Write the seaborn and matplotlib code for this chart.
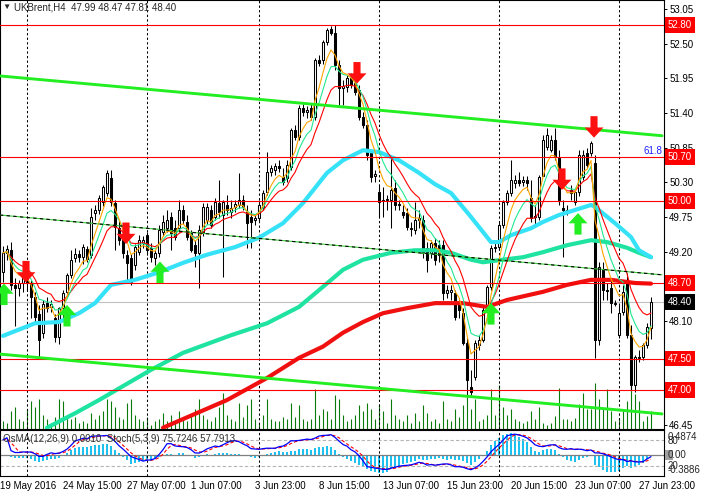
import numpy as np
import pandas as pd
import matplotlib
matplotlib.use("Agg")
import matplotlib.pyplot as plt
import seaborn as sns

# ---- candles (UKBrent H4) ----
opens = [48.87, 49.18, 49.22, 48.67, 48.62, 48.70, 48.78, 48.70, 48.48, 48.21,
         47.91, 48.38, 48.32, 48.14, 47.84, 48.30, 48.56, 48.83, 49.10, 49.16,
         49.11, 49.24, 49.15, 49.81, 49.86, 49.99, 50.13, 50.37, 49.97, 49.57,
         49.38, 49.15, 49.10, 48.99, 49.19, 49.34, 49.46, 49.26, 49.10, 49.18,
         49.51, 49.57, 49.75, 49.57, 49.57, 49.86, 49.67, 49.50, 49.30, 49.18,
         49.51, 49.70, 49.86, 49.75, 49.97, 49.78, 49.94, 49.83, 49.91, 49.94,
         50.02, 49.83, 49.75, 49.70, 49.73, 49.91, 50.15, 50.46, 50.50, 50.56,
         50.38, 50.37, 50.55, 51.13, 51.02, 51.48, 51.42, 51.48, 51.34, 52.24,
         52.24, 52.53, 52.74, 52.67, 52.16, 51.80, 51.81, 51.96, 51.88, 51.77,
         51.34, 51.21, 50.77, 50.40, 50.15, 50.02, 50.02, 50.02, 50.21, 49.96,
         49.83, 49.81, 49.57, 49.54, 49.70, 49.70, 49.26, 49.18, 49.34, 49.30,
         49.30, 48.54, 48.56, 48.54, 48.38, 48.22, 47.75, 47.05, 47.21, 47.71,
         47.79, 48.27, 48.64, 49.26, 49.27, 49.62, 49.99, 50.13, 50.29, 50.34,
         50.30, 50.34, 50.05, 49.76, 49.75, 50.40, 50.86, 50.81, 50.97, 50.69,
         49.89, 49.86, 50.18, 49.99, 50.15, 50.38, 50.77, 50.77, 50.61, 47.79,
         48.91, 48.59, 48.62, 48.38, 47.87, 48.24, 48.75, 47.87, 47.08, 47.52,
         47.52, 47.71, 47.99]
highs = [49.29, 49.30, 49.35, 48.78, 48.75, 48.91, 48.87, 48.75, 48.56, 48.35,
         48.43, 48.48, 48.43, 48.21, 48.32, 48.59, 48.86, 49.22, 49.26, 49.22,
         49.32, 49.29, 49.89, 49.94, 50.10, 50.26, 50.50, 50.50, 50.02, 49.70,
         49.45, 49.22, 49.16, 49.32, 49.46, 49.45, 49.51, 49.34, 49.22, 49.62,
         49.78, 49.86, 49.83, 49.70, 50.02, 49.94, 49.78, 49.54, 49.38, 49.62,
         49.97, 49.97, 49.94, 50.05, 50.34, 50.02, 50.10, 50.02, 50.02, 50.45,
         50.10, 49.94, 49.86, 49.80, 50.02, 50.18, 50.78, 50.58, 50.61, 50.65,
         50.53, 50.65, 51.16, 51.21, 51.53, 51.55, 51.51, 51.55, 52.28, 52.32,
         52.56, 52.75, 52.78, 52.80, 52.24, 51.93, 52.01, 52.04, 51.96, 51.85,
         51.42, 51.29, 50.81, 50.50, 50.26, 50.23, 50.10, 50.73, 50.34, 50.02,
         49.94, 49.89, 49.67, 49.99, 49.86, 49.78, 49.35, 49.38, 49.42, 49.38,
         49.38, 48.67, 48.67, 48.59, 48.46, 48.30, 47.83, 47.32, 47.79, 47.87,
         48.35, 48.67, 49.30, 49.34, 49.67, 50.02, 50.18, 50.65, 50.42, 50.46,
         50.40, 50.40, 50.34, 49.94, 50.42, 51.05, 51.16, 51.05, 51.16, 50.81,
         50.02, 49.94, 50.26, 50.18, 50.81, 50.81, 50.85, 50.96, 50.73, 49.03,
         49.03, 48.70, 48.75, 48.43, 48.35, 48.67, 48.86, 48.03, 47.56, 47.64,
         47.75, 48.06, 48.47]
lows = [48.72, 49.07, 48.59, 48.02, 48.49, 48.56, 48.59, 48.14, 48.08, 47.52,
        47.83, 48.24, 48.24, 47.76, 47.73, 48.14, 48.49, 48.78, 49.03, 49.03,
        49.00, 49.03, 49.10, 49.70, 49.80, 49.92, 50.08, 49.92, 49.22, 49.30,
        49.10, 48.70, 48.67, 48.91, 49.15, 49.26, 49.15, 49.03, 48.99, 49.11,
        49.45, 49.51, 49.22, 49.38, 49.51, 49.64, 49.38, 49.19, 48.95, 48.62,
        49.45, 49.64, 49.57, 49.70, 49.73, 48.79, 49.78, 49.73, 49.83, 49.89,
        49.86, 49.26, 49.26, 49.62, 49.67, 49.86, 50.10, 50.40, 50.42, 50.46,
        50.26, 50.30, 50.50, 50.97, 50.97, 51.35, 51.32, 51.29, 51.29, 52.15,
        52.18, 52.48, 52.64, 52.08, 51.53, 51.53, 51.74, 51.80, 51.69, 51.29,
        51.16, 50.65, 50.30, 50.30, 49.75, 49.75, 49.86, 49.57, 49.86, 49.86,
        49.73, 49.54, 49.45, 49.48, 49.57, 49.10, 48.87, 49.10, 48.99, 49.03,
        48.43, 48.46, 48.43, 48.11, 48.14, 47.71, 46.92, 46.92, 47.16, 47.64,
        47.76, 48.24, 48.59, 49.19, 49.22, 49.57, 49.94, 50.08, 50.21, 50.24,
        50.24, 50.18, 49.67, 49.62, 49.70, 50.40, 50.81, 50.78, 50.65, 49.94,
        49.11, 49.78, 50.02, 49.94, 50.08, 50.34, 50.53, 50.72, 47.51, 47.71,
        48.43, 48.43, 48.22, 48.34, 47.83, 48.19, 47.83, 47.00, 46.97, 47.45,
        47.48, 47.67, 47.81]
closes = [49.18, 49.24, 48.67, 48.62, 48.70, 48.78, 48.70, 48.48, 48.16, 47.79,
          48.37, 48.30, 48.37, 47.84, 48.30, 48.54, 48.83, 49.07, 49.16, 49.11,
          49.27, 49.08, 49.75, 49.86, 50.05, 50.23, 50.45, 49.99, 49.59, 49.38,
          49.18, 49.02, 48.72, 49.27, 49.38, 49.38, 49.22, 49.11, 49.18, 49.54,
          49.67, 49.70, 49.50, 49.43, 49.86, 49.70, 49.43, 49.22, 49.18, 49.54,
          49.91, 49.91, 49.62, 49.99, 49.83, 49.99, 49.86, 49.89, 49.96, 50.02,
          49.91, 49.65, 49.67, 49.73, 49.94, 50.13, 50.46, 50.53, 50.56, 50.53,
          50.30, 50.58, 51.13, 51.02, 51.48, 51.42, 51.45, 51.34, 52.24, 52.20,
          52.53, 52.72, 52.67, 52.16, 51.80, 51.83, 51.96, 51.85, 51.74, 51.34,
          51.21, 50.73, 50.38, 50.43, 49.99, 50.00, 50.04, 50.18, 49.94, 49.94,
          49.78, 49.59, 49.56, 49.70, 49.73, 49.18, 49.07, 49.34, 49.07, 49.15,
          48.54, 48.59, 48.59, 48.16, 48.27, 47.75, 47.16, 46.97, 47.75, 47.79,
          48.27, 48.64, 49.26, 49.27, 49.62, 49.99, 50.13, 50.34, 50.34, 50.29,
          50.34, 50.29, 49.73, 49.75, 50.38, 50.97, 51.05, 50.97, 50.70, 50.02,
          49.86, 49.85, 50.13, 50.15, 50.73, 50.73, 50.58, 50.93, 47.79, 48.95,
          48.59, 48.57, 48.38, 48.37, 48.22, 48.56, 47.87, 47.08, 47.52, 47.51,
          47.71, 48.00, 48.40]
# tick volume
volumes = [800, 600, 1800, 2200, 1000, 800, 2000, 2800, 2200, 3000, 1400,
           1000, 600, 1200, 3000, 2800, 1400, 1000, 1200, 600, 800,
           600, 1600, 1000, 1400, 1800, 3000, 2800, 2200, 1200, 1000,
           2600, 3000, 1400, 1000, 800, 1200, 400, 800, 1000, 1600,
           800, 1400, 600, 1800, 1000, 800, 1400, 2000, 3000, 1400,
           1000, 800, 1200, 2200, 3600, 1400, 1000, 800, 2600, 1200,
           2400, 3000, 1000, 600, 1400, 3000, 1000, 800, 800, 1200,
           1000, 2600, 1200, 2400, 1000, 800, 1000, 4000, 1400, 2000,
           1800, 1000, 3400, 3000, 1400, 800, 1000, 1400, 2400, 1800,
           2600, 2000, 1000, 2400, 1800, 600, 3000, 1400, 1000, 800,
           1400, 600, 1600, 800, 2400, 1600, 800, 1000, 600, 2800,
           1000, 800, 2000, 1200, 2400, 3400, 2000, 3000, 800, 1000,
           1400, 4000, 1400, 4400, 2200, 1400, 2000, 1000, 800, 600,
           800, 1800, 1000, 2200, 600, 400, 600, 1300, 4100, 1000,
           1000, 800, 1100, 2500, 3600, 2000, 2000, 4600, 3000, 2100,
           4000, 1800, 800, 1100, 1800, 2800, 4600, 3500, 2800, 800, 1300, 1800]

# ---- long moving averages read at sample bars ----
ma_aqua_bar = [0, 8, 14, 19, 23, 27, 33, 39, 45, 51, 58, 64, 70, 75, 81, 85, 90, 94,
               99, 104, 108, 112, 117, 122, 124, 127, 132, 135, 139, 147, 148, 153,
               157, 159, 162]
ma_aqua = [47.86, 48.06, 48.08, 48.22, 48.38, 48.67, 48.75, 48.87, 49.02, 49.15,
           49.27, 49.42, 49.65, 49.97, 50.45, 50.65, 50.81, 50.78, 50.65, 50.45,
           50.27, 50.13, 49.75, 49.35, 49.35, 49.46, 49.57, 49.67, 49.78, 49.94,
           49.91, 49.65, 49.43, 49.22, 49.11]
ma_spring_bar = [11, 18, 24, 37, 45, 57, 66, 74, 80, 85, 90, 97, 103, 108, 112, 117,
                 120, 125, 130, 135, 141, 147, 151, 156, 159, 162]
ma_spring = [46.40, 46.63, 46.84, 47.32, 47.59, 47.87, 48.06, 48.32, 48.64, 48.91,
             49.07, 49.18, 49.22, 49.22, 49.18, 49.07, 49.03, 49.07, 49.11, 49.19,
             49.30, 49.38, 49.35, 49.26, 49.18, 49.11]
ma_red_bar = [40, 56, 66, 74, 80, 85, 90, 95, 101, 108, 115, 121, 126, 135, 141, 147,
              152, 158, 162]
ma_red = [46.40, 46.84, 47.19, 47.51, 47.69, 47.91, 48.08, 48.22, 48.30, 48.38, 48.38,
          48.32, 48.43, 48.56, 48.67, 48.75, 48.75, 48.70, 48.69]

# ---- objects on the chart ----
levels = [52.80, 50.70, 50.00, 48.70, 47.50, 47.00]
bid = 48.40
price_ticks = [53.05, 52.50, 51.95, 51.40, 50.85, 50.30, 49.75, 49.20, 48.65,
               48.10, 47.55, 47.00, 46.45]
hidden_ticks = [47.55, 47.00]   # covered by the level boxes
trend_bar = [-0.75, 164.75]
trend_upper = [51.99, 51.04]
trend_mid = [49.78, 48.83]
trend_lower = [47.57, 46.62]
week_bars = [6, 36, 64, 94, 124, 154]
sell_bar = [5.75, 30.75, 88.5, 139.75, 147.75]
sell_price = [48.88, 49.49, 52.04, 50.35, 51.18]
buy_bar = [0.25, 16, 39.25, 122, 143.75]
buy_price = [48.52, 48.18, 48.87, 48.21, 49.64]
date_bars = [-0.75, 15, 31, 47, 63, 79, 95, 111, 127, 143, 159]
date_labels = ["19 May 2016", "24 May 15:00", "27 May 07:00", "1 Jun 07:00",
               "3 Jun 23:00", "8 Jun 15:00", "13 Jun 07:00", "15 Jun 23:00",
               "20 Jun 15:00", "23 Jun 07:00", "27 Jun 23:00"]

sns.set_style("white")
plt.rcParams['font.family'] = ['Liberation Sans', 'DejaVu Sans']
plt.rcParams['font.size'] = 7

W, H = 701, 496
fig = plt.figure(figsize=(W / 100, H / 100), dpi=100)


def rect(x0, y0, x1, y1):
    return [x0 / W, 1 - y1 / H, (x1 - x0) / W, (y1 - y0) / H]


df = pd.DataFrame({'open': opens, 'high': highs, 'low': lows, 'close': closes,
                   'volume': volumes})
df['bar'] = np.arange(len(df))
XL = (-0.75, 165.25)

# volume underneath the price panel
axv = fig.add_axes(rect(0, 0, 664, 429))
axv.vlines(df['bar'], 0, df['volume'], color='#0b7a0b', lw=0.8)
axv.set_xlim(*XL)
axv.set_ylim(0, 42900)
axv.set_axis_off()

ax = fig.add_axes(rect(0, 0, 664, 429), sharex=axv)
ax.patch.set_alpha(0)
ax.set_xlim(*XL)
ax.set_ylim(46.38, 53.197)

for b in week_bars:
    ax.axvline(b, color='black', lw=0.75, ls=(0, (2.2, 2.2)), zorder=1)

up = df['close'] >= df['open']
ax.vlines(df['bar'], df['low'], df['high'], color='black', lw=0.75, zorder=3)
ax.bar(df['bar'][up], (df['close'] - df['open'])[up], bottom=df['open'][up],
       width=0.62, color='white', edgecolor='black', lw=0.75, zorder=4)
ax.bar(df['bar'][~up], (df['open'] - df['close'])[~up], bottom=df['close'][~up],
       width=0.62, color='black', edgecolor='black', lw=0.75, zorder=4)

# long MAs
sns.lineplot(x=ma_spring_bar, y=ma_spring, ax=ax, color='#1fe3a0', lw=3.0, zorder=5)
sns.lineplot(x=ma_red_bar, y=ma_red, ax=ax, color='#f01010', lw=3.0, zorder=5)
sns.lineplot(x=ma_aqua_bar, y=ma_aqua, ax=ax, color='#35e2f8', lw=3.0, zorder=5)

# short MAs
ema5 = df['close'].ewm(span=5, adjust=False).mean()
ema8 = df['close'].ewm(span=8, adjust=False).mean()
ema13 = df['close'].ewm(span=13, adjust=False).mean()
sns.lineplot(x=df['bar'].values, y=ema13.values, ax=ax, color='#ff0000', lw=0.8, zorder=6)
sns.lineplot(x=df['bar'].values, y=ema8.values, ax=ax, color='#20e890', lw=0.8, zorder=6)
sns.lineplot(x=df['bar'].values, y=ema5.values, ax=ax, color='#ffa500', lw=0.8, zorder=6)

# horizontal levels and trend lines
for lv in levels:
    ax.axhline(lv, color='#ff0000', lw=0.8, zorder=7)
ax.axhline(bid, color='#c0c0c0', lw=0.8, zorder=2)
ax.plot(trend_bar, trend_upper, color='#22ee22', lw=2.1, zorder=7)
ax.plot(trend_bar, trend_lower, color='#22ee22', lw=2.1, zorder=7)
ax.plot(trend_bar, trend_mid, color='#3ccc3c', lw=0.8, zorder=7)
ax.plot(trend_bar, trend_mid, color='black', lw=0.8, ls=(0, (3, 3)), zorder=7)

# signal arrows
down_arrow = [(-0.33, 1), (0.33, 1), (0.33, -0.05), (0.88, -0.05), (0, -1),
              (-0.88, -0.05), (-0.33, -0.05), (-0.33, 1)]
up_arrow = [(x, -y) for x, y in down_arrow]
ax.scatter(sell_bar, sell_price, marker=down_arrow, s=240, color='#ff1010',
           edgecolor='none', zorder=9)
ax.scatter(buy_bar, buy_price, marker=up_arrow, s=240, color='#22ee22',
           edgecolor='none', zorder=9)

# price scale
ax.yaxis.tick_right()
ax.set_yticks(price_ticks)
ax.set_yticklabels(['' if v in hidden_ticks else f'{v:.2f}' for v in price_ticks])
ax.tick_params(axis='y', direction='out', length=2.2, width=0.7, pad=1.5,
               labelsize=7, colors='black', right=True, left=False)
ax.tick_params(axis='x', bottom=False, labelbottom=False)
ax.set_xlabel('')
ax.set_ylabel('')
for sp in ax.spines.values():
    sp.set_color('black')
    sp.set_linewidth(0.8)

ytr = ax.get_yaxis_transform()
for lv in levels:
    ax.text(1.006, lv, f'{lv:.2f}', transform=ytr, ha='left', va='center',
            color='white', fontsize=7, clip_on=False, zorder=10,
            bbox=dict(boxstyle='square,pad=0.28', fc='#ff0000', ec='none'))
ax.text(1.006, bid, f'{bid:.2f}', transform=ytr, ha='left', va='center',
        color='white', fontsize=7, clip_on=False, zorder=10,
        bbox=dict(boxstyle='square,pad=0.28', fc='black', ec='none'))
ax.text(0.997, 50.80, '61.8', transform=ytr, ha='right', va='center',
        color='#2020ff', fontsize=7, zorder=10)

fig.text(2 / W, 1 - 7 / H, '\u25bc', fontsize=6, ha='left', va='center')
fig.text(14 / W, 1 - 7 / H, 'UKBrent,H4  47.99 48.47 47.81 48.40', fontsize=7,
         ha='left', va='center')

# ---- indicator window: OsMA(12,26,9) + Stoch(5,3,9) ----
c = df['close']
macd = c.ewm(span=12, adjust=False).mean() - c.ewm(span=26, adjust=False).mean()
osma = macd - macd.rolling(9, min_periods=1).mean()
ll = df['low'].rolling(5, min_periods=1).min()
hh = df['high'].rolling(5, min_periods=1).max()
k_main = 100 * (c - ll).rolling(9, min_periods=1).sum() / (hh - ll).rolling(9, min_periods=1).sum()
k_sig = k_main.rolling(3, min_periods=1).mean()

axo = fig.add_axes(rect(0, 430, 664, 476))
axo.bar(df['bar'], osma, width=0.72, color='#1ec0f0', lw=0)
axo.axhline(0, color='#808080', lw=0.9)
axo.set_xlim(*XL)
axo.set_ylim(-0.408, 0.507)
axo.set_axis_off()

axi = fig.add_axes(rect(0, 430, 664, 476), sharex=axo)
axi.patch.set_alpha(0)
axi.set_xlim(*XL)
axi.set_ylim(-3, 103.2)
for lv in (80, 20):
    axi.axhline(lv, color='#b4b4b4', lw=0.8, ls=(0, (3, 2)))
for b in week_bars:
    axi.axvline(b, color='black', lw=0.75, ls=(0, (2.2, 2.2)))
sns.lineplot(x=df['bar'].values, y=k_sig.values, ax=axi, color='#ff0000', lw=0.8,
             linestyle=(0, (3, 2)))
sns.lineplot(x=df['bar'].values, y=k_main.values, ax=axi, color='#0000ff', lw=0.9)
axi.set_yticks([])
axi.set_xlabel('')
axi.set_ylabel('')
axi.set_xticks(date_bars)
axi.set_xticklabels(date_labels, ha='left')
axi.tick_params(axis='x', direction='out', length=2.2, width=0.7, pad=1.5,
                labelsize=7, colors='black')
for sp in axi.spines.values():
    sp.set_color('black')
    sp.set_linewidth(0.8)

fig.text(3 / W, 1 - 439 / H, 'OsMA(12,26,9) 0.0010  Stoch(5,3,9) 75.7246 57.7913',
         fontsize=7, color='#303030', ha='left', va='center')
fig.text(668 / W, 1 - 437 / H, '0.4874', fontsize=7, ha='left', va='center')
fig.text(668 / W, 1 - 441 / H, '80', fontsize=7, ha='left', va='center')
fig.patches.append(plt.Rectangle((665 / W, 1 - 460 / H), 8 / W, 10 / H,
                                 transform=fig.transFigure, fc='#a0a0a0', ec='none'))
fig.text(668 / W, 1 - 455 / H, '0.00', fontsize=7, ha='left', va='center')
fig.text(668 / W, 1 - 466 / H, '20', fontsize=7, ha='left', va='center')
fig.text(668 / W, 1 - 470 / H, '-0.3886', fontsize=7, ha='left', va='center')

fig.savefig('out.png', dpi=100)
